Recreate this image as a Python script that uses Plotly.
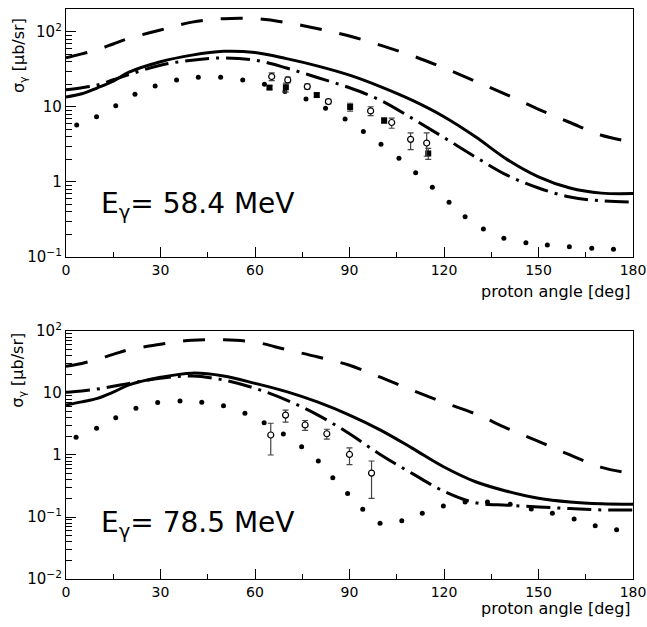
import plotly.graph_objects as go

# ---------------- data ----------------
angles = [0, 5, 10, 15, 20, 30, 40, 50, 60, 70, 80, 90, 100, 110, 120, 130, 140, 150, 160, 170, 180]

# E_gamma = 58.4 MeV
top_dashed = [45, 51, 58, 69, 82, 106, 135, 150, 150, 133, 110, 88, 66, 48, 33, 22, 14.5, 9.3, 6.2, 4.2, 3.4]
top_solid = [13.6, 15.0, 18, 22, 29, 40, 49, 55, 53, 44, 35, 26.5, 18.5, 12.2, 7.4, 4.0, 2.0, 1.17, 0.83, 0.71, 0.7]
top_dashdot = [16.9, 18, 19.6, 23, 27, 36, 42, 45, 42, 33, 24.5, 18, 12.2, 7.0, 3.9, 2.15, 1.23, 0.83, 0.63, 0.56, 0.54]
top_dot_ang = [3.4, 9.7, 15.8, 21.9, 28.3, 35.1, 42, 49.1, 56.1, 63, 69.5, 76.2, 82.4, 88.6, 94.4, 100,
               105.7, 111, 116.3, 121.6, 126.7, 132.5, 139, 146, 152.8, 159.8, 166.9, 173.8]
top_dot_val = [5.75, 7.4, 10.4, 14.8, 19, 22.9, 24.9, 24.9, 22.9, 20, 16, 12.8, 9.6, 6.9, 4.7, 3.17,
               2.07, 1.33, 0.85, 0.535, 0.345, 0.236, 0.178, 0.155, 0.144, 0.137, 0.131, 0.127]
top_circ_ang = [65.3, 70.4, 76.6, 83.3, 96.7, 103.4, 109.4, 114.5]
top_circ_val = [25.4, 22.9, 18.7, 11.8, 8.85, 6.2, 3.7, 3.3]
top_circ_ep = [3, 2, 1.5, 0.8, 1.2, 0.9, 0.8, 1.2]
top_circ_em = [3, 2, 1.5, 0.8, 1.2, 1.0, 1.0, 1.1]
top_sq_ang = [64.6, 69.8, 79.6, 90.2, 101, 115]
top_sq_val = [18.1, 18.3, 14.4, 10.0, 6.6, 2.4]
top_sq_err = [1.0, 2.5, 0.8, 1.2, 0.5, 0.4]

# E_gamma = 78.5 MeV
bot_dashed = [27, 30, 35, 42, 50, 61, 71, 72, 66, 50, 38, 28, 17.8, 11, 7, 4.6, 2.7, 1.66, 1.0, 0.63, 0.5]
bot_solid = [6.4, 7.2, 8.2, 10.3, 13.5, 17.9, 20.9, 18.8, 14.3, 10.5, 7.1, 4.4, 2.5, 1.28, 0.64, 0.37, 0.26, 0.2, 0.174, 0.163, 0.16]
bot_dashdot = [10.3, 10.8, 11.6, 12.8, 14.3, 17.3, 18.8, 16.2, 11.9, 7.7, 4.4, 2.2, 1.0, 0.5, 0.26, 0.17, 0.155, 0.145, 0.137, 0.13, 0.13]
bot_dot_ang = [3.2, 9.7, 15.8, 22.2, 29.1, 36.2, 43.1, 50, 56.8, 62.9, 69, 74.8, 80.1, 84.7, 89.4, 94.2,
               99.7, 106.6, 113.1, 119.8, 126.7, 133.8, 141, 147.7, 154.4, 161.3, 168, 174.8]
bot_dot_val = [1.93, 2.7, 4.0, 5.7, 7.0, 7.4, 7.07, 6.2, 4.7, 3.3, 2.18, 1.36, 0.8, 0.43, 0.24, 0.133,
               0.079, 0.087, 0.115, 0.15, 0.174, 0.174, 0.16, 0.135, 0.115, 0.093, 0.072, 0.062]
bot_circ_ang = [65, 69.7, 75.9, 82.8, 90, 97]
bot_circ_val = [2.1, 4.4, 3.05, 2.2, 1.02, 0.51]
bot_circ_ep = [1.15, 0.9, 0.55, 0.4, 0.28, 0.29]
bot_circ_em = [1.1, 1.0, 0.55, 0.4, 0.32, 0.31]

x_ticks = [0, 30, 60, 90, 120, 150, 180]
top_yticks = [0.1, 1, 10, 100]
top_ylabels = ["10<sup>−1</sup>", "1", "10", "10<sup>2</sup>"]
bot_yticks = [0.01, 0.1, 1, 10, 100]
bot_ylabels = ["10<sup>−2</sup>", "10<sup>−1</sup>", "1", "10", "10<sup>2</sup>"]

# ---------------- figure ----------------
FONT = "DejaVu Sans, Liberation Sans, sans-serif"
fig = go.Figure()

DASH = "22px,18px"
DASHDOT = "24px,7px,3px,7px"


def add_panel(xa, ya, dashed, solid, dashdot, dang, dval):
    fig.add_trace(go.Scatter(x=angles, y=dashed, mode="lines", line=dict(color="black", width=3, dash=DASH, shape="spline"),
                             xaxis=xa, yaxis=ya, showlegend=False))
    fig.add_trace(go.Scatter(x=angles, y=solid, mode="lines", line=dict(color="black", width=3, shape="spline"),
                             xaxis=xa, yaxis=ya, showlegend=False))
    fig.add_trace(go.Scatter(x=angles, y=dashdot, mode="lines", line=dict(color="black", width=3, dash=DASHDOT, shape="spline"),
                             xaxis=xa, yaxis=ya, showlegend=False))
    fig.add_trace(go.Scatter(x=dang, y=dval, mode="markers", marker=dict(color="black", size=5),
                             xaxis=xa, yaxis=ya, showlegend=False))


add_panel("x", "y", top_dashed, top_solid, top_dashdot, top_dot_ang, top_dot_val)
fig.add_trace(go.Scatter(x=top_sq_ang, y=top_sq_val, mode="markers",
                         marker=dict(symbol="square", color="black", size=6),
                         error_y=dict(type="data", array=top_sq_err, color="#444", thickness=1.2, width=3),
                         xaxis="x", yaxis="y", showlegend=False))
fig.add_trace(go.Scatter(x=top_circ_ang, y=top_circ_val, mode="markers",
                         marker=dict(symbol="circle", color="white", size=6, line=dict(color="black", width=1.2)),
                         error_y=dict(type="data", array=top_circ_ep, arrayminus=top_circ_em, color="#444", thickness=1.2, width=3),
                         xaxis="x", yaxis="y", showlegend=False))

add_panel("x2", "y2", bot_dashed, bot_solid, bot_dashdot, bot_dot_ang, bot_dot_val)
fig.add_trace(go.Scatter(x=bot_circ_ang, y=bot_circ_val, mode="markers",
                         marker=dict(symbol="circle", color="white", size=6, line=dict(color="black", width=1.2)),
                         error_y=dict(type="data", array=bot_circ_ep, arrayminus=bot_circ_em, color="#444", thickness=1.2, width=3),
                         xaxis="x2", yaxis="y2", showlegend=False))

xcommon = dict(range=[0, 180], tickmode="array", tickvals=x_ticks, ticks="inside", ticklen=10, tickwidth=1.3,
               tickcolor="black", minor=dict(dtick=15, tick0=0, ticks="inside", ticklen=5,
                                             tickwidth=1.2, tickcolor="black", showgrid=False),
               showline=True, mirror=True, linecolor="black", linewidth=1.3, showgrid=False, zeroline=False,
               automargin=False, ticklabeloverflow="allow", tickfont=dict(size=14, color="black", family=FONT))
ycommon = dict(type="log", tickmode="array", ticks="inside", ticklen=10, tickwidth=1.3, tickcolor="black",
               minor=dict(dtick="D1", ticks="inside", ticklen=6, tickwidth=1, tickcolor="black", showgrid=False),
               showline=True, mirror=True, linecolor="black", linewidth=1.3, showgrid=False, zeroline=False,
               automargin=False, ticklabeloverflow="allow", tickfont=dict(size=15, color="black", family=FONT))

fig.update_layout(
    width=647, height=627,
    margin=dict(l=66, r=14, t=9, b=48),
    paper_bgcolor="white", plot_bgcolor="white",
    font=dict(family=FONT, color="black"),
    xaxis=dict(domain=[0, 1], anchor="y", **xcommon),
    yaxis=dict(domain=[0.5649, 1.0], anchor="x", range=[-1, 2.305], tickvals=top_yticks, ticktext=top_ylabels, **ycommon),
    xaxis2=dict(domain=[0, 1], anchor="y2", **xcommon),
    yaxis2=dict(domain=[0.0, 0.4351], anchor="x2", range=[-2, 2], tickvals=bot_yticks, ticktext=bot_ylabels, **ycommon),
)

ann = []
for yc in [0.919, 0.367]:
    ann.append(dict(text="σ<sub>γ</sub> [μb/sr]", xref="paper", yref="paper", x=-0.083, y=yc, textangle=-90,
                    showarrow=False, xanchor="center", yanchor="middle", font=dict(size=16, color="black")))
for yc in [0.505, -0.051]:
    ann.append(dict(text="proton angle [deg]", xref="paper", yref="paper", x=1.0, y=yc, showarrow=False,
                    xanchor="right", yanchor="middle", font=dict(size=16, color="black")))
ann.append(dict(text="E<sub>γ</sub>= 58.4 MeV", xref="paper", yref="paper", x=0.058, y=0.656, showarrow=False,
                xanchor="left", yanchor="middle", font=dict(size=28, color="black")))
ann.append(dict(text="E<sub>γ</sub>= 78.5 MeV", xref="paper", yref="paper", x=0.058, y=0.095, showarrow=False,
                xanchor="left", yanchor="middle", font=dict(size=28, color="black")))
fig.update_layout(annotations=ann)

fig.write_html("out.html", config={"displayModeBar": False},
               post_script="document.body.style.margin='0px';")
